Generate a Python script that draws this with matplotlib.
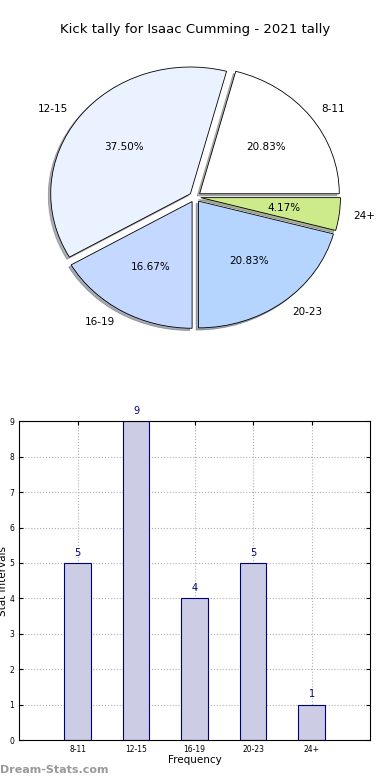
import matplotlib
matplotlib.use("Agg")
import matplotlib.pyplot as plt

categories = ["8-11", "12-15", "16-19", "20-23", "24+"]
counts = [5, 9, 4, 5, 1]
pie_colors = ["#ffffff", "#eaf1ff", "#c5d8ff", "#b5d5ff", "#cdeb8b"]
title = "Kick tally for Isaac Cumming - 2021 tally"

fig = plt.figure(figsize=(3.9, 7.8), dpi=100)
fig.text(0.5, 1 - 30 / 780, title, ha="center", va="center", fontsize=9.5)

# pie on top
ax1 = fig.add_axes([0.036, 0.537, 0.928, 0.421])
wedges, texts, autotexts = ax1.pie(
    counts, labels=categories, colors=pie_colors, explode=[0.04] * len(counts),
    autopct="%.2f%%", startangle=0, radius=0.965,
    shadow={"ox": -0.012, "oy": -0.012, "shade": 0.6},
    wedgeprops=dict(edgecolor="black", linewidth=0.6),
    textprops=dict(fontsize=7.5))
ax1.set_aspect("auto")

# bars below
ax2 = fig.add_axes([0.049, 0.051, 0.9, 0.409])
x = list(range(len(categories)))
bars = ax2.bar(x, counts, width=0.45, color="#ccccE5", edgecolor="#00007f",
               linewidth=0.8, zorder=2)
for xi, c in zip(x, counts):
    ax2.text(xi, c + 0.15, str(c), ha="center", va="bottom", color="#00007f", fontsize=7)
ax2.set_xlim(-1, 5)
ax2.set_ylim(0, 9)
ax2.set_xticks(x)
ax2.set_xticklabels(categories)
ax2.set_yticks(range(10))
ax2.tick_params(labelsize=5.5, direction="in", top=True, right=True, length=3)
ax2.grid(True, linestyle=":", color="#b0b0b0", linewidth=0.8, zorder=0)
ax2.set_axisbelow(True)
ax2.set_xlabel("Frequency", fontsize=7.5, labelpad=1)
ax2.set_ylabel("Stat Intervals", fontsize=7.5)
ax2.yaxis.set_label_coords(-0.033, 0.5)

fig.text(0.0, 1 - 770 / 780, "Dream-Stats.com", ha="left", va="center",
         fontsize=8, color="#999999", fontweight="semibold")

fig.savefig("out.png", dpi=100)
